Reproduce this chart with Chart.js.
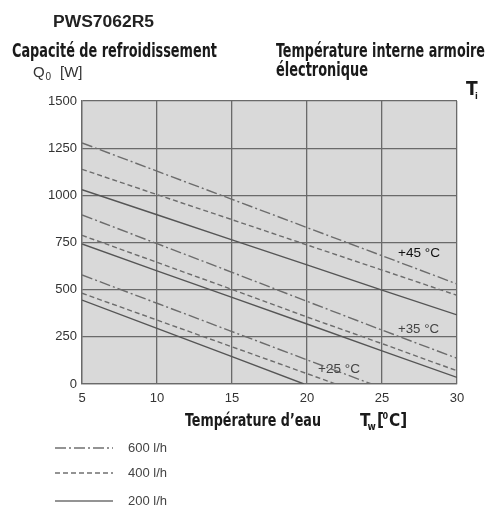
<!DOCTYPE html>
<html>
<head>
<meta charset="utf-8">
<script src="https://cdn.jsdelivr.net/npm/chart.js@4/dist/chart.umd.min.js"></script>
<style>
html, body { margin: 0; padding: 0; background: #fff; }
#wrap { width: 486px; height: 507px; }
</style>
</head>
<body>
<div id="wrap"><canvas id="chart" width="486" height="507"></canvas></div>
<script>
// Waarden (Tw in °C, Q0 in W)
const waterTemp = [5, 10, 15, 20, 25, 30];

const q45_600 = [1278, 1128, 979, 829, 680, 530];
const q45_400 = [1138, 1004, 871, 737, 604, 470];
const q45_200 = [1030, 897, 764, 631, 498, 366];

const q35_600 = [896, 744, 592, 438, 286, 136];
const q35_400 = [788, 645, 501, 355, 214, 70];
const q35_200 = [742, 600, 459, 318, 176, 35];

// 25 °C lijnen stoppen waar ze de nul raken
const tw25_600 = [5, 10, 15, 20, 24.3];
const q25_600 = [578, 428, 278, 128, 0];
const tw25_400 = [5, 10, 15, 20, 21.9];
const q25_400 = [481, 339, 197, 55, 0];
const tw25_200 = [5, 10, 15, 19.8];
const q25_200 = [445, 295, 145, 0];

const xTicks = [5, 10, 15, 20, 25, 30];
const yTicks = [0, 250, 500, 750, 1000, 1250, 1500];
const flowLabels = ["600 l/h", "400 l/h", "200 l/h"];
const tempLabels = ["+45 °C", "+35 °C", "+25 °C"];

// Lijnstijlen per debiet
const dashes = {
    "600 l/h": [11, 3, 2, 3],
    "400 l/h": [5, 3],
    "200 l/h": []
};
const lineColors = {
    "600 l/h": "#6c6c6c",
    "400 l/h": "#6c6c6c",
    "200 l/h": "#555555"
};

const gridColor = "#6a6a6a";
const narrow = "'Liberation Sans Narrow', 'DejaVu Sans Condensed', 'Liberation Sans', Arial, sans-serif";
const sans = "'Liberation Sans', Arial, sans-serif";

function pts(xs, ys) {
    return ys.map((y, i) => ({ x: xs[i], y: y }));
}

function line(flow, temp, xs, ys) {
    return {
        label: flow + " " + temp,
        data: pts(xs, ys),
        borderColor: lineColors[flow],
        borderDash: dashes[flow],
        borderWidth: 1.4,
        pointRadius: 0,
        fill: false,
        tension: 0
    };
}

const datasets = [
    line("600 l/h", tempLabels[0], waterTemp, q45_600),
    line("400 l/h", tempLabels[0], waterTemp, q45_400),
    line("200 l/h", tempLabels[0], waterTemp, q45_200),
    line("600 l/h", tempLabels[1], waterTemp, q35_600),
    line("400 l/h", tempLabels[1], waterTemp, q35_400),
    line("200 l/h", tempLabels[1], waterTemp, q35_200),
    line("600 l/h", tempLabels[2], tw25_600, q25_600),
    line("400 l/h", tempLabels[2], tw25_400, q25_400),
    line("200 l/h", tempLabels[2], tw25_200, q25_200)
];

// tekst tekenen, eventueel horizontaal samengedrukt tot een breedte
function txt(ctx, s, x, y, font, color, maxW, baseline) {
    ctx.save();
    ctx.font = font;
    ctx.fillStyle = color;
    ctx.textAlign = "left";
    ctx.textBaseline = baseline || "alphabetic";
    const w = ctx.measureText(s).width;
    ctx.translate(x, y);
    if (maxW && w > 0) ctx.scale(maxW / w, 1);
    ctx.fillText(s, 0, 0);
    ctx.restore();
}

const plotBg = {
    id: "plotBg",
    beforeDraw(chart) {
        const { ctx, chartArea: a } = chart;
        ctx.save();
        ctx.fillStyle = "#d9d9d9";
        ctx.fillRect(a.left, a.top, a.right - a.left, a.bottom - a.top);
        ctx.restore();
    }
};

const annotations = {
    id: "annotations",
    afterDraw(chart) {
        const ctx = chart.ctx;
        const ys = chart.scales.y;

        txt(ctx, "PWS7062R5", 53, 27, "bold 16px " + sans, "#222", 101);
        txt(ctx, "Capacité de refroidissement", 12, 57, "bold 20px " + narrow, "#1a1a1a", 205);
        txt(ctx, "Température interne armoire", 276, 57, "bold 20px " + narrow, "#1a1a1a", 209);
        txt(ctx, "électronique", 276, 76, "bold 20px " + narrow, "#1a1a1a", 92);

        // Q0 [W]
        txt(ctx, "Q", 33, 77, "15px " + sans, "#333");
        txt(ctx, "0", 45.5, 80, "10px " + sans, "#333");
        txt(ctx, "[W]", 60, 77, "15px " + sans, "#333");

        // Ti
        txt(ctx, "T", 466, 95, "bold 19px " + narrow, "#1a1a1a");
        txt(ctx, "i", 475, 99, "bold 9px " + narrow, "#1a1a1a");

        // as titel x
        txt(ctx, "Température d’eau", 185, 426, "bold 17px " + narrow, "#1a1a1a", 136);
        txt(ctx, "T", 360, 426, "bold 17px " + narrow, "#1a1a1a");
        txt(ctx, "w", 367.5, 430, "bold 10px " + narrow, "#1a1a1a");
        txt(ctx, "[", 377, 426, "bold 17px " + narrow, "#1a1a1a");
        txt(ctx, "0", 382.5, 419, "bold 9px " + narrow, "#1a1a1a");
        txt(ctx, "C]", 389, 426, "bold 17px " + narrow, "#1a1a1a");

        // temperatuurlabels in de grafiek
        txt(ctx, tempLabels[0], 398, ys.getPixelForValue(693), "13px " + sans, "#111", 42, "middle");
        txt(ctx, tempLabels[1], 398, ys.getPixelForValue(289), "13px " + sans, "#444", 41, "middle");
        txt(ctx, tempLabels[2], 318, ys.getPixelForValue(76), "13px " + sans, "#444", 42, "middle");

        // legenda
        const rowsY = [448, 473, 501];
        flowLabels.forEach((f, i) => {
            ctx.save();
            ctx.strokeStyle = "#707070";
            ctx.lineWidth = 1.3;
            ctx.setLineDash(dashes[f]);
            ctx.beginPath();
            ctx.moveTo(55, rowsY[i]);
            ctx.lineTo(113, rowsY[i]);
            ctx.stroke();
            ctx.restore();
            txt(ctx, f, 128, rowsY[i], "13px " + sans, "#444", null, "middle");
        });
    }
};

const tickFont = { family: "'Liberation Sans', Arial, sans-serif", size: 13 };

new Chart(document.getElementById("chart").getContext("2d"), {
    type: "line",
    data: { datasets: datasets },
    options: {
        responsive: false,
        animation: false,
        layout: { padding: { top: 101, right: 29, bottom: 0, left: 0 } },
        plugins: { legend: { display: false }, tooltip: { enabled: false } },
        scales: {
            x: {
                type: "linear",
                min: 5,
                max: 30,
                afterBuildTicks: s => { s.ticks = xTicks.map(v => ({ value: v })); },
                afterFit: s => { s.height = 123; },
                grid: { color: gridColor, lineWidth: 1.3, drawTicks: false },
                border: { color: gridColor, width: 1.3 },
                ticks: { padding: 7, color: "#333", font: tickFont, callback: v => String(v) }
            },
            y: {
                type: "linear",
                min: 0,
                max: 1500,
                afterBuildTicks: s => { s.ticks = yTicks.map(v => ({ value: v })); },
                afterFit: s => { s.width = 82; },
                grid: { color: gridColor, lineWidth: 1.3, drawTicks: false },
                border: { color: gridColor, width: 1.3 },
                ticks: { padding: 5, color: "#333", font: tickFont, callback: v => String(v) }
            }
        }
    },
    plugins: [plotBg, annotations]
});
</script>
</body>
</html>
